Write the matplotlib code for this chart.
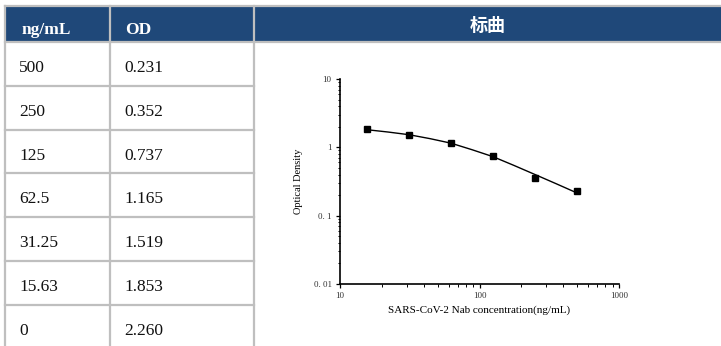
import matplotlib.pyplot as plt
from matplotlib.patches import Rectangle
from matplotlib.ticker import LogLocator, FixedLocator, FixedFormatter, NullFormatter

plt.rcParams["font.family"] = ["Liberation Serif", "Noto Sans CJK SC", "DejaVu Sans"]

# table data
col_headers = ["ng/mL", "OD"]
chart_title = "标曲"
conc_labels = ["500", "250", "125", "62.5", "31.25", "15.63", "0"]
od_labels = ["0.231", "0.352", "0.737", "1.165", "1.519", "1.853", "2.260"]

# standard points (0 ng/mL cannot go on a log axis)
std_conc = [500, 250, 125, 62.5, 31.25, 15.63]
std_od = [0.231, 0.352, 0.737, 1.165, 1.519, 1.853]

# fitted curve
curve_conc = [15.63, 22.1, 31.25, 44.2, 62.5, 88.4, 125, 176.8, 250, 353.6, 500]
curve_od = [1.81, 1.675, 1.53, 1.34, 1.15, 0.923, 0.73, 0.543, 0.40, 0.294, 0.215]

W, H = 721, 346
fig = plt.figure(figsize=(W / 100, H / 100), dpi=100)

# background axes in pixel coordinates for the table
bg = fig.add_axes([0, 0, 1, 1])
bg.set_xlim(0, W)
bg.set_ylim(H, 0)
bg.axis("off")

blue = "#1f4879"
grid = "#bfbfbf"
head_top, head_bot = 6.5, 42
row_h = 43.8
col_x = [5, 110, 254]

bg.add_patch(Rectangle((col_x[0], head_top), W - col_x[0], head_bot - head_top,
                       facecolor=blue, edgecolor="none", zorder=1))
# horizontal lines
bg.plot([col_x[0], W], [head_top - 0.5, head_top - 0.5], color=grid, lw=1.6, zorder=2)
bg.plot([col_x[0], W], [head_bot, head_bot], color=grid, lw=1.6, zorder=2)
for i in range(1, len(conc_labels)):
    y = head_bot + i * row_h
    bg.plot([col_x[0], col_x[2]], [y, y], color=grid, lw=1.6, zorder=2)
# vertical lines
for x in col_x:
    bg.plot([x, x], [head_top - 1, H], color=grid, lw=1.6, zorder=2)

bg.text(22, 33.5, col_headers[0], color="white", fontsize=12.5, fontweight="bold",
        va="baseline", ha="left")
bg.text(125, 33.5, col_headers[1], color="white", fontsize=12.5, fontweight="bold",
        va="baseline", ha="left")
bg.text((col_x[2] + W) / 2, 25, chart_title, color="white", fontsize=13,
        fontweight="bold", family=["Noto Sans CJK SC"], va="center", ha="center")

for i, (c, o) in enumerate(zip(conc_labels, od_labels)):
    yb = head_bot + i * row_h + 30
    bg.text(19, yb, c, fontsize=12.5, color="#111111", va="baseline", ha="left")
    bg.text(124, yb, o, fontsize=12.5, color="#111111", va="baseline", ha="left")

# standard curve
ax = fig.add_axes([340 / W, (H - 284) / H, 279 / W, 205 / H])
ax.plot(curve_conc, curve_od, color="black", lw=1.0, zorder=2)
ax.plot(std_conc, std_od, "s", color="black", ms=4.3, zorder=3)
ax.set_xscale("log")
ax.set_yscale("log")
ax.set_xlim(10, 1000)
ax.set_ylim(0.01, 10)

ax.xaxis.set_major_locator(FixedLocator([10, 100, 1000]))
ax.xaxis.set_major_formatter(FixedFormatter(["10", "100", "1000"]))
ax.xaxis.set_minor_locator(LogLocator(base=10, subs=range(2, 10)))
ax.xaxis.set_minor_formatter(NullFormatter())
ax.yaxis.set_major_locator(FixedLocator([0.01, 0.1, 1, 10]))
ax.yaxis.set_major_formatter(FixedFormatter(["0. 01", "0. 1", "1", "10"]))
ax.yaxis.set_minor_locator(LogLocator(base=10, subs=range(2, 10)))
ax.yaxis.set_minor_formatter(NullFormatter())

for s in ["top", "right"]:
    ax.spines[s].set_visible(False)
for s in ["left", "bottom"]:
    ax.spines[s].set_linewidth(1.2)
ax.tick_params(which="major", length=3, width=0.9, labelsize=6.5,
               labelcolor="#333333", pad=3)
ax.tick_params(which="minor", length=1.8, width=0.7)

ax.set_xlabel("SARS-CoV-2 Nab concentration(ng/mL)", fontsize=8, labelpad=4)
ax.set_ylabel("Optical Density", fontsize=7.5, labelpad=8)

fig.savefig("out.png", dpi=100)
